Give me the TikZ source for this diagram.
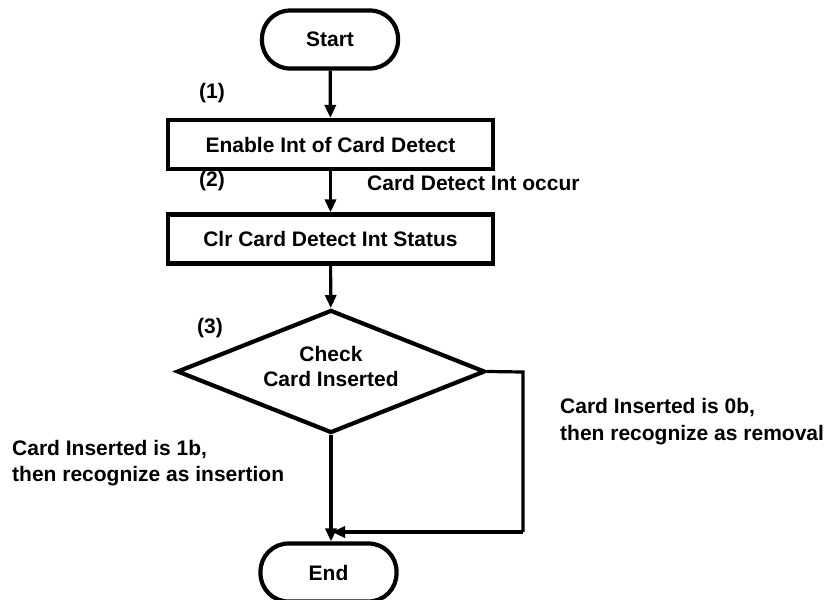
\documentclass[tikz,border=0pt]{standalone}
\usepackage{fontspec}
\setmainfont{Liberation Sans}
\usetikzlibrary{shapes.geometric,arrows.meta}
\begin{document}
\begin{tikzpicture}[x=1pt,y=-1pt,
  every node/.style={font=\fontsize{21}{25}\selectfont\bfseries},
  terminal/.style={draw,line width=4.2pt,rounded corners=28pt,minimum width=136pt,minimum height=58pt,inner sep=0pt},
  procbox/.style={draw,line width=4.2pt,minimum width=325pt,minimum height=49pt,inner sep=0pt},
  decision/.style={draw,diamond,line width=4.2pt,minimum width=308pt,minimum height=123pt,inner sep=0pt,align=center},
  flow/.style={line width=3.2pt,-{Triangle[length=13pt,width=11pt]}},
  plain/.style={line width=3.2pt},
  lbl/.style={anchor=west,inner sep=0pt}
]
\useasboundingbox (0,0) rectangle (831,600);
\node[terminal] (start) at (330,39.5) {Start};
\node[procbox] (enable) at (330.5,144.5) {Enable Int of Card Detect};
\node[procbox] (clr) at (330.5,239) {Clr Card Detect Int Status};
\node[decision] (check) at (331,371.5) {};
\node (checktxt) at (331,366) [align=center,inner sep=0pt] {Check\\Card Inserted};
\node[terminal] (end) at (328.5,572.5) {End};

\coordinate (loopA) at (523,372);
\coordinate (loopB) at (523,532);
\coordinate (join) at (332,532);

\draw[flow] (start) -- (enable);
\draw[flow] (enable) -- (clr);
\draw[flow] (clr) -- (check);
\draw[flow] (check.south) -- (check.south |- end.north);
\draw[plain] (check.east) -- (loopA) -- (loopB);
\draw[flow] (loopB) -- (join);

\node (n1) at (212,93) {(1)};
\node (n2) at (212,181) {(2)};
\node (n3) at (210,328) {(3)};
\node[lbl] (occur) at (367,183) {Card Detect Int occur};
\node[lbl] (zero1) at (560,408) {Card Inserted is 0b,};
\node[lbl] (zero2) at (560,435) {then recognize as removal};
\node[lbl] (one1) at (12,450) {Card Inserted is 1b,};
\node[lbl] (one2) at (12,476) {then recognize as insertion};
\end{tikzpicture}
\end{document}
